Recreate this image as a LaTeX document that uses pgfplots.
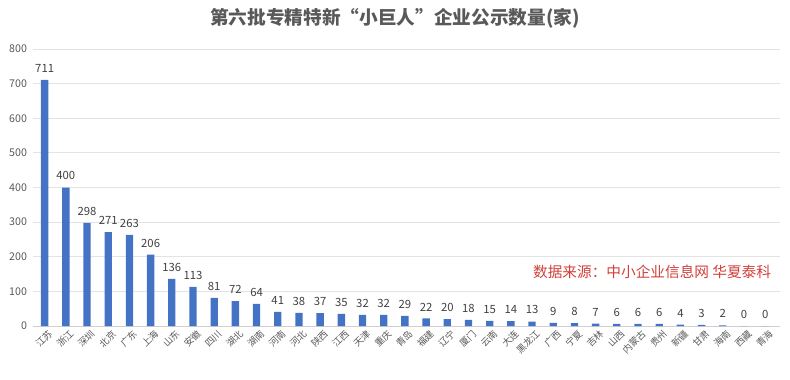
\documentclass[border=0pt]{standalone}
\usepackage{pgfplots}
\pgfplotsset{compat=1.18}
\usepackage{fontspec}
\setmainfont{Noto Sans CJK SC}
\definecolor{barblue}{HTML}{4472C4}
\definecolor{txtgray}{HTML}{595959}
\definecolor{lblgray}{HTML}{404040}
\definecolor{gridgray}{HTML}{E3E3E3}
\definecolor{srcred}{HTML}{D0403A}
\begin{document}
\begin{tikzpicture}
\begin{axis}[name=ax, at={(0,0)}, anchor=south west,
  scale only axis, width=560.25pt, height=207.75pt,
  xmin=-0.55, xmax=34.7, ymin=0, ymax=800,
  ytick={0,100,...,800},
  /pgf/number format/assume math mode=true,
  ymajorgrids, grid style={draw=gridgray, line width=0.6pt},
  axis x line*=bottom, axis y line*=left,
  y axis line style={draw=none},
  x axis line style={draw=gridgray!80!gray, line width=0.7pt},
  major tick length=0pt,
  ybar, bar width=5.5pt,
  xtick={0,...,34},
  xticklabels={江苏,浙江,深圳,北京,广东,上海,山东,安徽,四川,湖北,湖南,河南,河北,陕西,江西,天津,重庆,青岛,福建,辽宁,厦门,云南,大连,黑龙江,广西,宁夏,吉林,山西,内蒙古,贵州,新疆,甘肃,海南,西藏,青海},
  x tick label style={rotate=45, anchor=north east, font=\fontsize{7pt}{7.5pt}\selectfont, text=txtgray, inner sep=0pt, yshift=-3pt},
  yticklabel style={font=\fontsize{8pt}{9pt}\selectfont, text=txtgray, xshift=-1pt},
  nodes near coords,
  every node near coord/.append style={font=\fontsize{8.5pt}{9pt}\selectfont, text=lblgray, yshift=2pt},
  clip=false,
]
\addplot[fill=barblue, draw=none] coordinates {
(0,711) (1,400) (2,298) (3,271) (4,263) (5,206) (6,136) (7,113) (8,81) (9,72)
(10,64) (11,41) (12,38) (13,37) (14,35) (15,32) (16,32) (17,29) (18,22) (19,20)
(20,18) (21,15) (22,14) (23,13) (24,9) (25,8) (26,7) (27,6) (28,6) (29,6)
(30,4) (31,3) (32,2) (33,0) (34,0)};
\node[font=\fontsize{11pt}{12pt}\selectfont, text=srcred, anchor=east] at (axis cs:34.5,156) {数据来源：中小企业信息网 华夏泰科};
\node[font=\bfseries\fontsize{14pt}{15pt}\selectfont, text=txtgray] at (rel axis cs:0.4846,1.112) {第六批专精特新“小巨人”企业公示数量(家)};
\end{axis}
\pgfresetboundingbox
\path (-24.75pt,-39.75pt) rectangle (567.75pt,244.5pt);
\end{tikzpicture}
\end{document}
